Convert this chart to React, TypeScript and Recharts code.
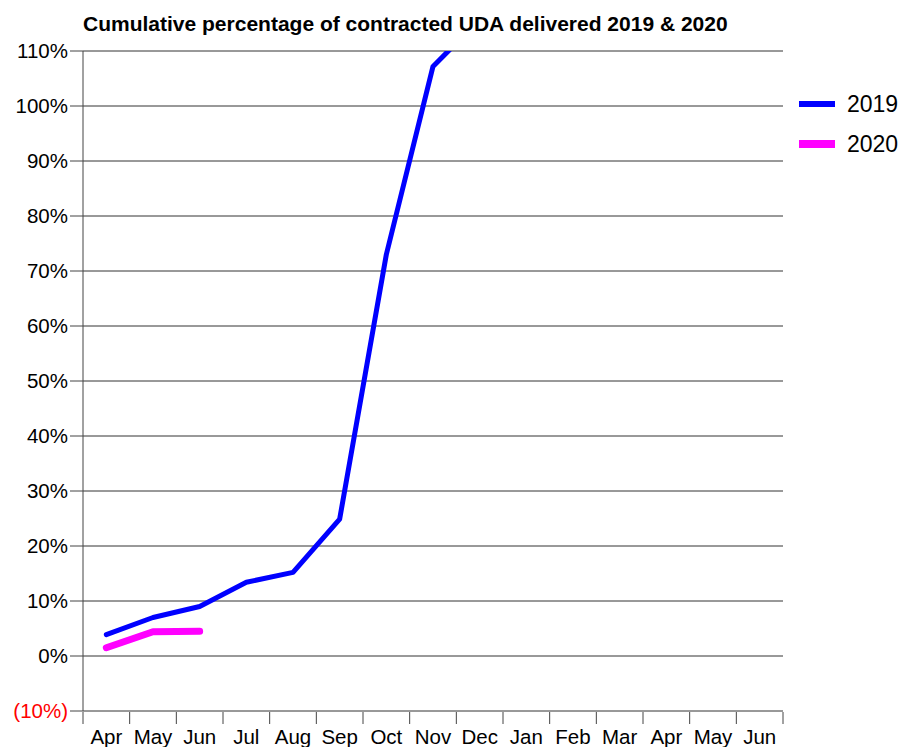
import React from 'react';
import { CartesianGrid, Line, LineChart, XAxis, YAxis } from 'recharts';

// Months of the contract years (Apr 2019 .. Jun 2020)
const months = ['Apr', 'May', 'Jun', 'Jul', 'Aug', 'Sep', 'Oct', 'Nov', 'Dec', 'Jan', 'Feb', 'Mar', 'Apr', 'May', 'Jun'];

// Cumulative % of contracted UDA delivered
const pct2019 = [3.9, 7.0, 9.0, 13.4, 15.2, 24.9, 73.0, 107.2, 115.7];
const pct2020 = [1.5, 4.4, 4.5];

const yTicks = [-10, 0, 10, 20, 30, 40, 50, 60, 70, 80, 90, 100, 110];

const series = [
  { key: 'y2019', name: '2019', color: '#0000ff', width: 5 },
  { key: 'y2020', name: '2020', color: '#ff00ff', width: 7 },
];

const boundaryTicks = months.map((_, i) => i).concat(months.length);
const labelTicks = months.map((_, i) => i + 0.5);

const data = months.map((month, i) => ({
  x: i + 0.5,
  month,
  y2019: i < pct2019.length ? pct2019[i] : null,
  y2020: i < pct2020.length ? pct2020[i] : null,
}));

const font = '"Liberation Sans", Arial, sans-serif';
const axisColor = '#444';

const fmtPct = (v: number) => (v < 0 ? `(${-v}%)` : `${v}%`);

const YTick = (props: any) => {
  const { x, y, payload } = props;
  return (
    <text
      x={x}
      y={y}
      dy="0.355em"
      textAnchor="end"
      fontSize={20.5}
      fontFamily={font}
      fill={payload.value < 0 ? '#ff0000' : '#000'}
    >
      {fmtPct(payload.value)}
    </text>
  );
};

const App: React.FC = () => {
  return (
    <div style={{ position: 'absolute', left: 0, top: 0, width: 901, height: 747, background: '#fff' }}>
      <div
        style={{
          position: 'absolute',
          left: 83,
          top: 12,
          fontFamily: font,
          fontWeight: 'bold',
          fontSize: 21,
          lineHeight: '24px',
          whiteSpace: 'nowrap',
        }}
      >
        Cumulative percentage of contracted UDA delivered 2019 &amp; 2020
      </div>

      <LineChart width={901} height={747} data={data} margin={{ top: 51, right: 118, bottom: 34, left: 20 }}>
        <CartesianGrid horizontal vertical={false} stroke="#333" />
        <YAxis
          type="number"
          domain={[-10, 110]}
          ticks={yTicks}
          allowDataOverflow
          interval={0}
          width={63}
          tickSize={13}
          tickMargin={2}
          axisLine={{ stroke: axisColor }}
          tickLine={{ stroke: axisColor }}
          tick={<YTick />}
        />
        <XAxis
          xAxisId="ticks"
          type="number"
          dataKey="x"
          domain={[0, months.length]}
          ticks={boundaryTicks}
          interval={0}
          height={1}
          tickSize={12}
          tickFormatter={() => ''}
          axisLine={false}
          tickLine={{ stroke: axisColor }}
        />
        <XAxis
          xAxisId="labels"
          type="number"
          dataKey="x"
          domain={[0, months.length]}
          ticks={labelTicks}
          interval={0}
          height={1}
          tickSize={12}
          tickMargin={6}
          axisLine={false}
          tickLine={false}
          tickFormatter={(v: number) => months[Math.floor(v)]}
          tick={{ fontSize: 20.5, fill: '#000', fontFamily: font }}
        />
        {series.map((s) => (
          <Line
            key={s.key}
            xAxisId="ticks"
            type="linear"
            dataKey={s.key}
            name={s.name}
            stroke={s.color}
            strokeWidth={s.width}
            strokeLinecap="round"
            strokeLinejoin="round"
            dot={false}
            activeDot={false}
            isAnimationActive={false}
          />
        ))}
      </LineChart>

      <div style={{ position: 'absolute', left: 799, top: 84, fontFamily: font, fontSize: 23 }}>
        {series.map((s) => (
          <div key={s.key} style={{ display: 'flex', alignItems: 'center', height: 40 }}>
            <div style={{ width: 36, height: s.width + 1.5, background: s.color, marginRight: 12 }} />
            <span>{s.name}</span>
          </div>
        ))}
      </div>
    </div>
  );
};

export default App;
